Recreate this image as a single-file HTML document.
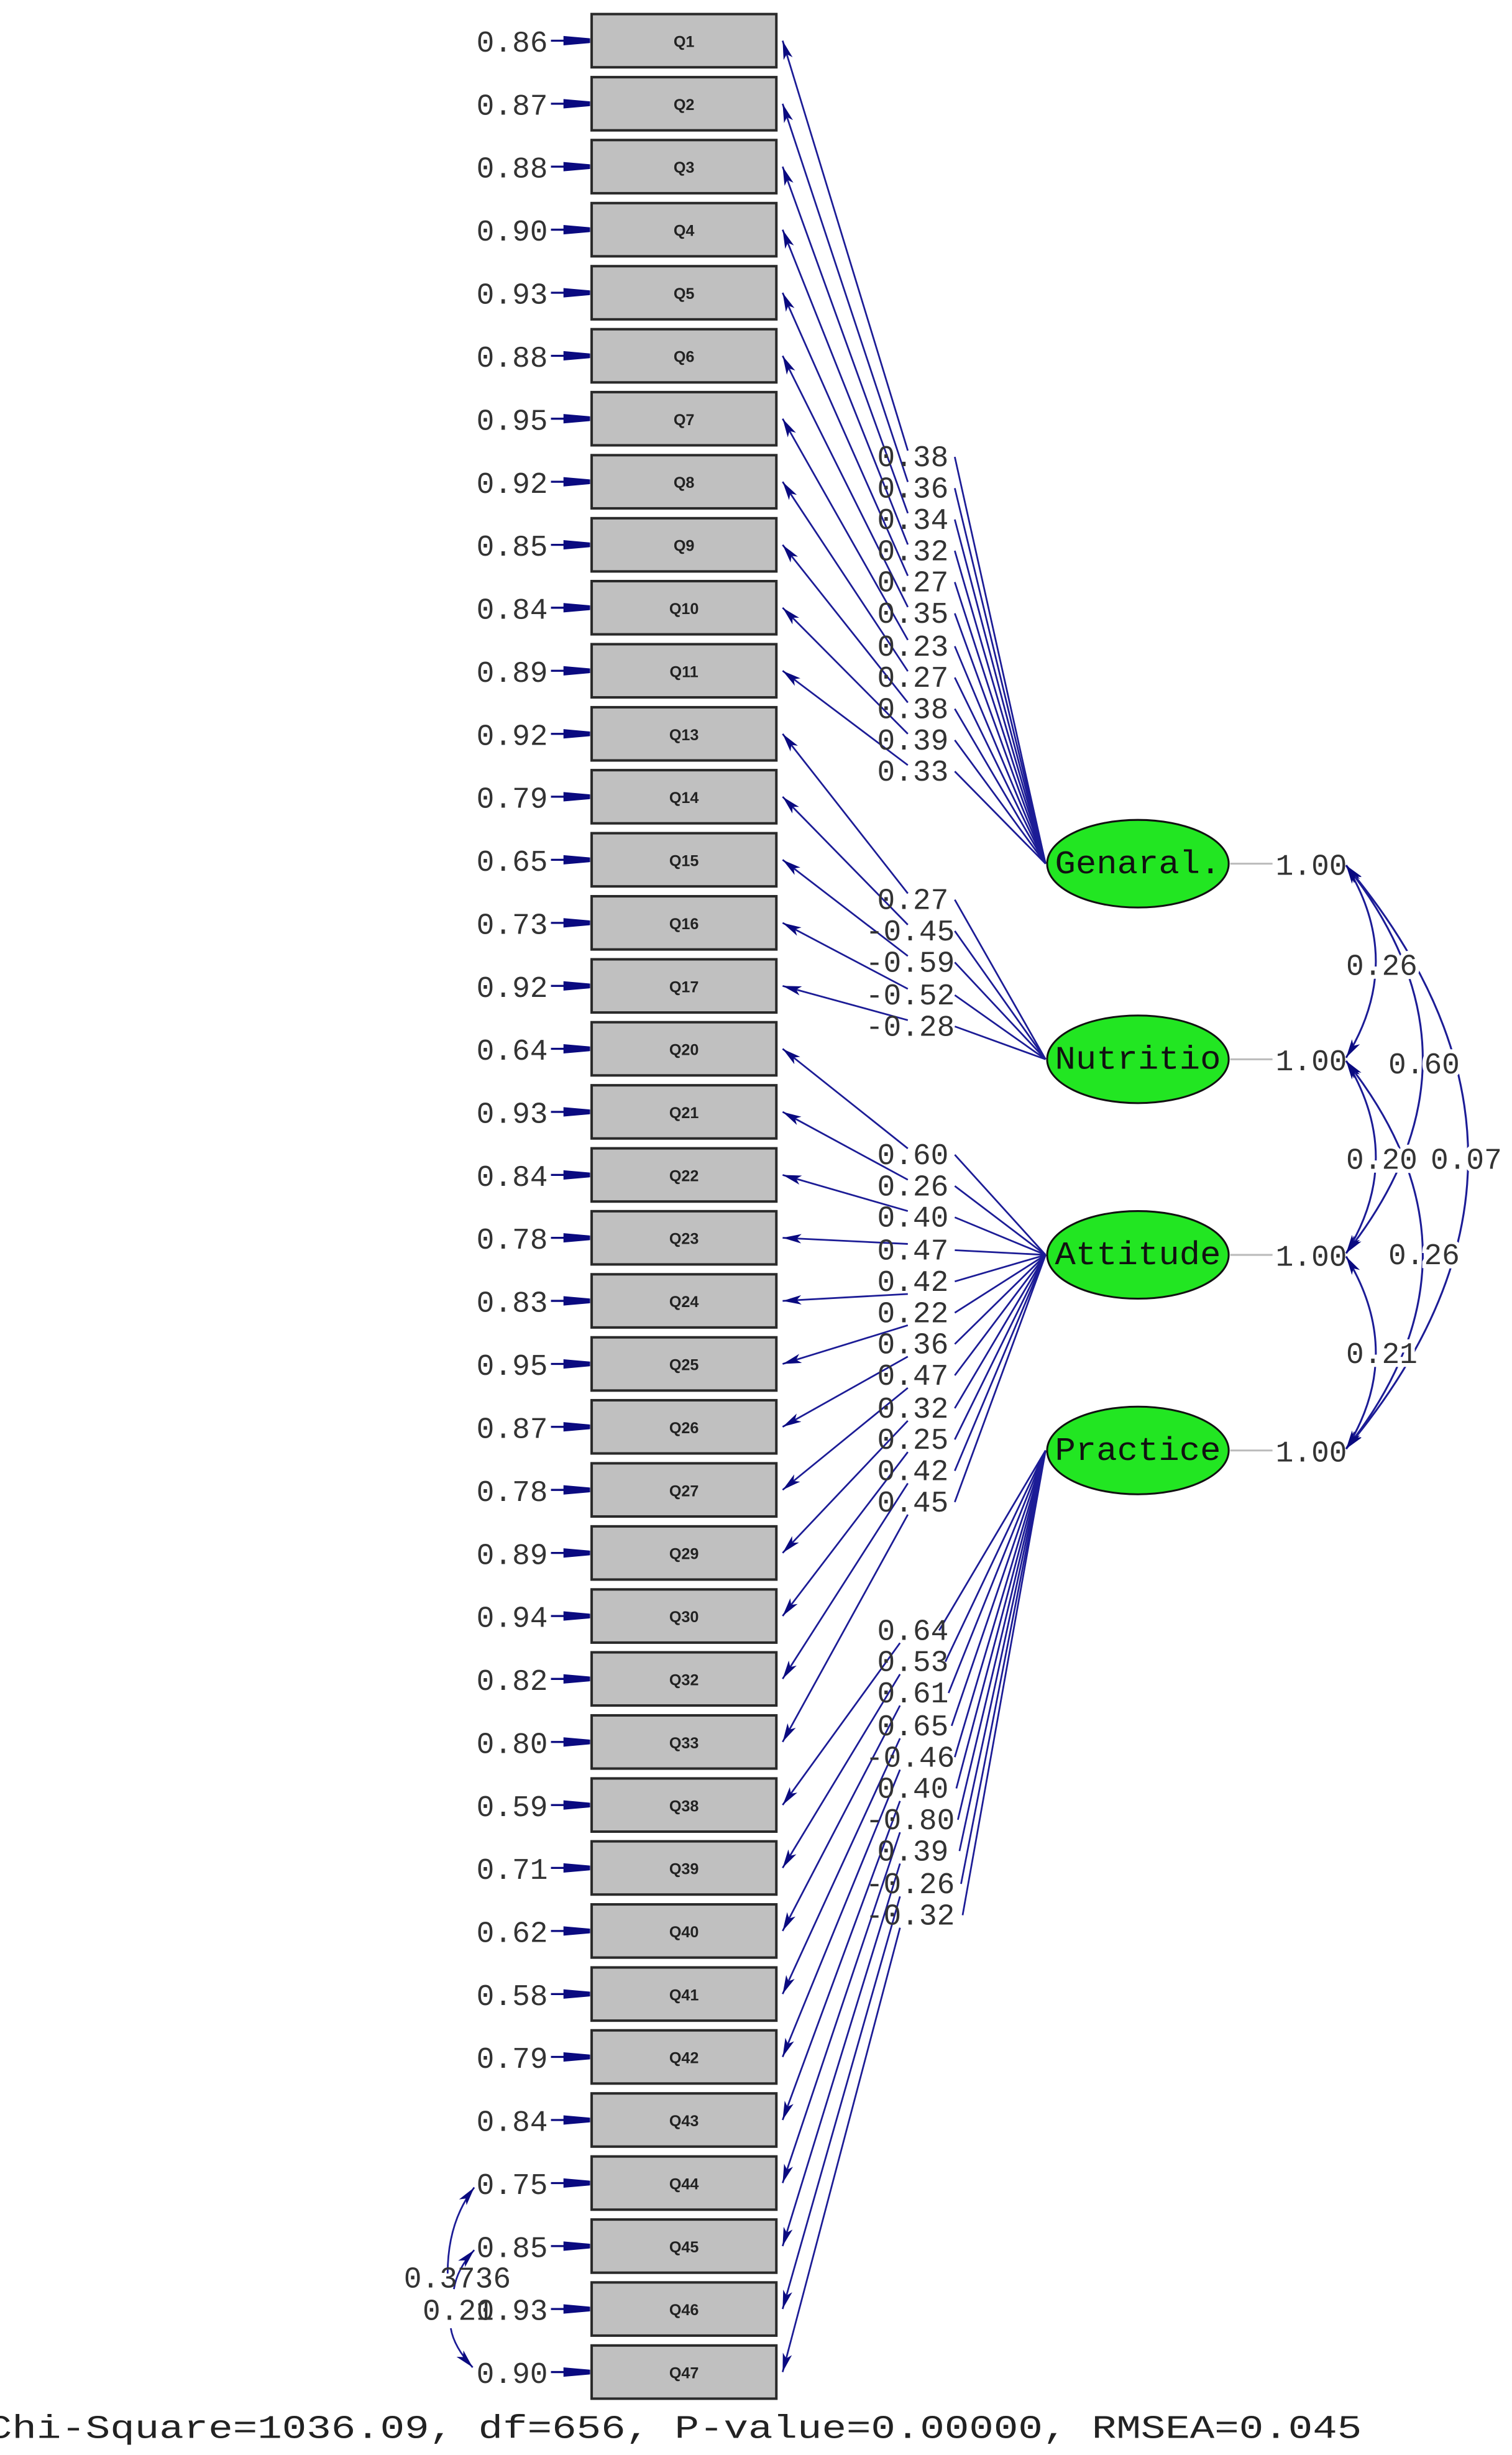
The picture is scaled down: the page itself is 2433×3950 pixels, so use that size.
<!DOCTYPE html>
<html><head><meta charset="utf-8"><style>
html,body{margin:0;padding:0;background:#fff;}
svg{display:block;}
.b{fill:#c0c0c0;stroke:#2a2a2a;stroke-width:1.6;}
.q{font-family:"Liberation Sans",sans-serif;font-size:10px;font-weight:bold;fill:#222;text-anchor:middle;}
.t{font-family:"Liberation Mono",monospace;font-size:19px;fill:#333;}
.e{text-anchor:end;}
.l{fill:none;stroke:#1c1c96;stroke-width:1.1;}
.er{fill:none;stroke:#0a0a80;stroke-width:1.3;}
.ld{fill:none;stroke:#1c1c96;stroke-width:1.1;marker-end:url(#ah);}
.ar{fill:none;stroke:#1c1c96;stroke-width:1.2;marker-start:url(#ah2);marker-end:url(#ah2);}
.ov{font-family:"Liberation Mono",monospace;font-size:19px;fill:#333;stroke:#fff;stroke-width:5px;paint-order:stroke;}
.el{fill:#22e622;stroke:#111;stroke-width:1.2;}
.et{font-family:"Liberation Mono",monospace;font-size:21px;fill:#111;text-anchor:middle;}
</style></head><body>
<svg width="2433" height="3950" viewBox="0 0 966 1569" preserveAspectRatio="none" xmlns="http://www.w3.org/2000/svg">
<defs>
<marker id="ah" markerUnits="userSpaceOnUse" markerWidth="14" markerHeight="8" refX="12" refY="3" orient="auto"><path d="M0,0 L12,3 L0,6 L3,3 z" fill="#0a0a80"/></marker>
<marker id="ah2" markerUnits="userSpaceOnUse" markerWidth="14" markerHeight="8" refX="12" refY="3" orient="auto-start-reverse"><path d="M0,0 L12,3 L0,6 L3,3 z" fill="#0a0a80"/></marker>
</defs>

<!-- boxes -->
<rect class="b" x="378" y="9" width="118" height="34"/><text class="q" x="437" y="30">Q1</text>
<rect class="b" x="378" y="49.3" width="118" height="34"/><text class="q" x="437" y="70.3">Q2</text>
<rect class="b" x="378" y="89.5" width="118" height="34"/><text class="q" x="437" y="110.5">Q3</text>
<rect class="b" x="378" y="129.8" width="118" height="34"/><text class="q" x="437" y="150.8">Q4</text>
<rect class="b" x="378" y="170.1" width="118" height="34"/><text class="q" x="437" y="191.1">Q5</text>
<rect class="b" x="378" y="210.4" width="118" height="34"/><text class="q" x="437" y="231.4">Q6</text>
<rect class="b" x="378" y="250.6" width="118" height="34"/><text class="q" x="437" y="271.6">Q7</text>
<rect class="b" x="378" y="290.9" width="118" height="34"/><text class="q" x="437" y="311.9">Q8</text>
<rect class="b" x="378" y="331.2" width="118" height="34"/><text class="q" x="437" y="352.2">Q9</text>
<rect class="b" x="378" y="371.4" width="118" height="34"/><text class="q" x="437" y="392.4">Q10</text>
<rect class="b" x="378" y="411.7" width="118" height="34"/><text class="q" x="437" y="432.7">Q11</text>
<rect class="b" x="378" y="452" width="118" height="34"/><text class="q" x="437" y="473">Q13</text>
<rect class="b" x="378" y="492.2" width="118" height="34"/><text class="q" x="437" y="513.2">Q14</text>
<rect class="b" x="378" y="532.5" width="118" height="34"/><text class="q" x="437" y="553.5">Q15</text>
<rect class="b" x="378" y="572.8" width="118" height="34"/><text class="q" x="437" y="593.8">Q16</text>
<rect class="b" x="378" y="613.1" width="118" height="34"/><text class="q" x="437" y="634.1">Q17</text>
<rect class="b" x="378" y="653.3" width="118" height="34"/><text class="q" x="437" y="674.3">Q20</text>
<rect class="b" x="378" y="693.6" width="118" height="34"/><text class="q" x="437" y="714.6">Q21</text>
<rect class="b" x="378" y="733.9" width="118" height="34"/><text class="q" x="437" y="754.9">Q22</text>
<rect class="b" x="378" y="774.1" width="118" height="34"/><text class="q" x="437" y="795.1">Q23</text>
<rect class="b" x="378" y="814.4" width="118" height="34"/><text class="q" x="437" y="835.4">Q24</text>
<rect class="b" x="378" y="854.7" width="118" height="34"/><text class="q" x="437" y="875.7">Q25</text>
<rect class="b" x="378" y="894.9" width="118" height="34"/><text class="q" x="437" y="915.9">Q26</text>
<rect class="b" x="378" y="935.2" width="118" height="34"/><text class="q" x="437" y="956.2">Q27</text>
<rect class="b" x="378" y="975.5" width="118" height="34"/><text class="q" x="437" y="996.5">Q29</text>
<rect class="b" x="378" y="1015.8" width="118" height="34"/><text class="q" x="437" y="1036.8">Q30</text>
<rect class="b" x="378" y="1056" width="118" height="34"/><text class="q" x="437" y="1077">Q32</text>
<rect class="b" x="378" y="1096.3" width="118" height="34"/><text class="q" x="437" y="1117.3">Q33</text>
<rect class="b" x="378" y="1136.6" width="118" height="34"/><text class="q" x="437" y="1157.6">Q38</text>
<rect class="b" x="378" y="1176.8" width="118" height="34"/><text class="q" x="437" y="1197.8">Q39</text>
<rect class="b" x="378" y="1217.1" width="118" height="34"/><text class="q" x="437" y="1238.1">Q40</text>
<rect class="b" x="378" y="1257.4" width="118" height="34"/><text class="q" x="437" y="1278.4">Q41</text>
<rect class="b" x="378" y="1297.6" width="118" height="34"/><text class="q" x="437" y="1318.6">Q42</text>
<rect class="b" x="378" y="1337.9" width="118" height="34"/><text class="q" x="437" y="1358.9">Q43</text>
<rect class="b" x="378" y="1378.2" width="118" height="34"/><text class="q" x="437" y="1399.2">Q44</text>
<rect class="b" x="378" y="1418.5" width="118" height="34"/><text class="q" x="437" y="1439.5">Q45</text>
<rect class="b" x="378" y="1458.7" width="118" height="34"/><text class="q" x="437" y="1479.7">Q46</text>
<rect class="b" x="378" y="1499" width="118" height="34"/><text class="q" x="437" y="1520">Q47</text>

<!-- error arrows -->
<path class="er" d="M352 26H377M352 66.3H377M352 106.5H377M352 146.8H377M352 187.1H377M352 227.4H377M352 267.6H377M352 307.9H377M352 348.2H377M352 388.4H377M352 428.7H377M352 469H377M352 509.2H377M352 549.5H377M352 589.8H377M352 630.1H377M352 670.3H377M352 710.6H377M352 750.9H377M352 791.1H377M352 831.4H377M352 871.7H377M352 911.9H377M352 952.2H377M352 992.5H377M352 1032.8H377M352 1073H377M352 1113.3H377M352 1153.6H377M352 1193.8H377M352 1234.1H377M352 1274.4H377M352 1314.6H377M352 1354.9H377M352 1395.2H377M352 1435.5H377M352 1475.7H377M352 1516H377"/>
<g fill="#0a0a80">
<path d="M360 23l17 1.5v3l-17 1.5z"/><path d="M360 63.3l17 1.5v3l-17 1.5z"/><path d="M360 103.5l17 1.5v3l-17 1.5z"/><path d="M360 143.8l17 1.5v3l-17 1.5z"/><path d="M360 184.1l17 1.5v3l-17 1.5z"/><path d="M360 224.4l17 1.5v3l-17 1.5z"/><path d="M360 264.6l17 1.5v3l-17 1.5z"/><path d="M360 304.9l17 1.5v3l-17 1.5z"/><path d="M360 345.2l17 1.5v3l-17 1.5z"/><path d="M360 385.4l17 1.5v3l-17 1.5z"/><path d="M360 425.7l17 1.5v3l-17 1.5z"/><path d="M360 466l17 1.5v3l-17 1.5z"/><path d="M360 506.2l17 1.5v3l-17 1.5z"/><path d="M360 546.5l17 1.5v3l-17 1.5z"/><path d="M360 586.8l17 1.5v3l-17 1.5z"/><path d="M360 627.1l17 1.5v3l-17 1.5z"/><path d="M360 667.3l17 1.5v3l-17 1.5z"/><path d="M360 707.6l17 1.5v3l-17 1.5z"/><path d="M360 747.9l17 1.5v3l-17 1.5z"/><path d="M360 788.1l17 1.5v3l-17 1.5z"/><path d="M360 828.4l17 1.5v3l-17 1.5z"/><path d="M360 868.7l17 1.5v3l-17 1.5z"/><path d="M360 908.9l17 1.5v3l-17 1.5z"/><path d="M360 949.2l17 1.5v3l-17 1.5z"/><path d="M360 989.5l17 1.5v3l-17 1.5z"/><path d="M360 1029.8l17 1.5v3l-17 1.5z"/><path d="M360 1070l17 1.5v3l-17 1.5z"/><path d="M360 1110.3l17 1.5v3l-17 1.5z"/><path d="M360 1150.6l17 1.5v3l-17 1.5z"/><path d="M360 1190.8l17 1.5v3l-17 1.5z"/><path d="M360 1231.1l17 1.5v3l-17 1.5z"/><path d="M360 1271.4l17 1.5v3l-17 1.5z"/><path d="M360 1311.6l17 1.5v3l-17 1.5z"/><path d="M360 1351.9l17 1.5v3l-17 1.5z"/><path d="M360 1392.2l17 1.5v3l-17 1.5z"/><path d="M360 1432.5l17 1.5v3l-17 1.5z"/><path d="M360 1472.7l17 1.5v3l-17 1.5z"/><path d="M360 1513l17 1.5v3l-17 1.5z"/>
</g>

<!-- error labels -->
<g>
<text class="t e" x="350" y="33">0.86</text><text class="t e" x="350" y="73.3">0.87</text><text class="t e" x="350" y="113.5">0.88</text><text class="t e" x="350" y="153.8">0.90</text><text class="t e" x="350" y="194.1">0.93</text><text class="t e" x="350" y="234.4">0.88</text><text class="t e" x="350" y="274.6">0.95</text><text class="t e" x="350" y="314.9">0.92</text><text class="t e" x="350" y="355.2">0.85</text><text class="t e" x="350" y="395.4">0.84</text><text class="t e" x="350" y="435.7">0.89</text><text class="t e" x="350" y="476">0.92</text><text class="t e" x="350" y="516.2">0.79</text><text class="t e" x="350" y="556.5">0.65</text><text class="t e" x="350" y="596.8">0.73</text><text class="t e" x="350" y="637.1">0.92</text><text class="t e" x="350" y="677.3">0.64</text><text class="t e" x="350" y="717.6">0.93</text><text class="t e" x="350" y="757.9">0.84</text><text class="t e" x="350" y="798.1">0.78</text><text class="t e" x="350" y="838.4">0.83</text><text class="t e" x="350" y="878.7">0.95</text><text class="t e" x="350" y="918.9">0.87</text><text class="t e" x="350" y="959.2">0.78</text><text class="t e" x="350" y="999.5">0.89</text><text class="t e" x="350" y="1039.8">0.94</text><text class="t e" x="350" y="1080">0.82</text><text class="t e" x="350" y="1120.3">0.80</text><text class="t e" x="350" y="1160.6">0.59</text><text class="t e" x="350" y="1200.8">0.71</text><text class="t e" x="350" y="1241.1">0.62</text><text class="t e" x="350" y="1281.4">0.58</text><text class="t e" x="350" y="1321.6">0.79</text><text class="t e" x="350" y="1361.9">0.84</text><text class="t e" x="350" y="1402.2">0.75</text><text class="t e" x="350" y="1442.5">0.85</text><text class="t e" x="350" y="1482.7">0.93</text><text class="t e" x="350" y="1523">0.90</text>
</g>

<!-- loadings: General -->
<path class="ld" d="M668 552L610 292M580 288L500 26"/>
<path class="ld" d="M668 552L610 312M580 308L500 66.3"/>
<path class="ld" d="M668 552L610 332M580 328L500 106.5"/>
<path class="ld" d="M668 552L610 352M580 348L500 146.8"/>
<path class="ld" d="M668 552L610 372M580 368L500 187.1"/>
<path class="ld" d="M668 552L610 392M580 388L500 227.4"/>
<path class="ld" d="M668 552L610 413M580 409L500 267.6"/>
<path class="ld" d="M668 552L610 433M580 429L500 307.9"/>
<path class="ld" d="M668 552L610 453M580 449L500 348.2"/>
<path class="ld" d="M668 552L610 473M580 469L500 388.4"/>
<path class="ld" d="M668 552L610 493M580 489L500 428.7"/>
<!-- Nutrition -->
<path class="ld" d="M668 677L610 575M580 571L500 469"/>
<path class="ld" d="M668 677L610 595M580 591L500 509.2"/>
<path class="ld" d="M668 677L610 615M580 611L500 549.5"/>
<path class="ld" d="M668 677L610 636M580 632L500 589.8"/>
<path class="ld" d="M668 677L610 656M580 652L500 630.1"/>
<!-- Attitude -->
<path class="ld" d="M668 802L610 738M580 734L500 670.3"/>
<path class="ld" d="M668 802L610 758M580 754L500 710.6"/>
<path class="ld" d="M668 802L610 778M580 774L500 750.9"/>
<path class="ld" d="M668 802L610 799M580 795L500 791.1"/>
<path class="ld" d="M668 802L610 819M580 827L500 831.4"/>
<path class="ld" d="M668 802L610 839M580 847L500 871.7"/>
<path class="ld" d="M668 802L610 859M580 867L500 911.9"/>
<path class="ld" d="M668 802L610 879M580 887L500 952.2"/>
<path class="ld" d="M668 802L610 900M580 908L500 992.5"/>
<path class="ld" d="M668 802L610 920M580 928L500 1032.8"/>
<path class="ld" d="M668 802L610 940M580 948L500 1073"/>
<path class="ld" d="M668 802L610 960M580 968L500 1113.3"/>
<!-- Practice -->
<path class="ld" d="M668 927L600 1042M575 1050L500 1153.6"/>
<path class="ld" d="M668 927L604 1062M575 1070L500 1193.8"/>
<path class="ld" d="M668 927L606 1082M575 1090L500 1234.1"/>
<path class="ld" d="M668 927L608 1103M575 1111L500 1274.4"/>
<path class="ld" d="M668 927L610 1123M575 1131L500 1314.6"/>
<path class="ld" d="M668 927L611 1143M575 1151L500 1354.9"/>
<path class="ld" d="M668 927L612 1163M575 1171L500 1395.2"/>
<path class="ld" d="M668 927L613 1183M575 1191L500 1435.5"/>
<path class="ld" d="M668 927L614 1204M575 1212L500 1475.7"/>
<path class="ld" d="M668 927L615 1224M575 1232L500 1516"/>

<!-- loading labels -->
<g>
<text class="t e" x="606" y="298">0.38</text><text class="t e" x="606" y="318">0.36</text><text class="t e" x="606" y="338">0.34</text><text class="t e" x="606" y="358">0.32</text><text class="t e" x="606" y="378">0.27</text><text class="t e" x="606" y="398">0.35</text><text class="t e" x="606" y="419">0.23</text><text class="t e" x="606" y="439">0.27</text><text class="t e" x="606" y="459">0.38</text><text class="t e" x="606" y="479">0.39</text><text class="t e" x="606" y="499">0.33</text>
<text class="t e" x="606" y="581">0.27</text><text class="t e" x="610" y="601">-0.45</text><text class="t e" x="610" y="621">-0.59</text><text class="t e" x="610" y="642">-0.52</text><text class="t e" x="610" y="662">-0.28</text>
<text class="t e" x="606" y="744">0.60</text><text class="t e" x="606" y="764">0.26</text><text class="t e" x="606" y="784">0.40</text><text class="t e" x="606" y="805">0.47</text><text class="t e" x="606" y="825">0.42</text><text class="t e" x="606" y="845">0.22</text><text class="t e" x="606" y="865">0.36</text><text class="t e" x="606" y="885">0.47</text><text class="t e" x="606" y="906">0.32</text><text class="t e" x="606" y="926">0.25</text><text class="t e" x="606" y="946">0.42</text><text class="t e" x="606" y="966">0.45</text>
<text class="t e" x="606" y="1048">0.64</text><text class="t e" x="606" y="1068">0.53</text><text class="t e" x="606" y="1088">0.61</text><text class="t e" x="606" y="1109">0.65</text><text class="t e" x="610" y="1129">-0.46</text><text class="t e" x="606" y="1149">0.40</text><text class="t e" x="610" y="1169">-0.80</text><text class="t e" x="606" y="1189">0.39</text><text class="t e" x="610" y="1210">-0.26</text><text class="t e" x="610" y="1230">-0.32</text>
</g>

<!-- latent variables -->
<ellipse class="el" cx="727" cy="552" rx="58" ry="28"/><text class="et" x="727" y="558" textLength="106" lengthAdjust="spacingAndGlyphs">Genaral.</text>
<ellipse class="el" cx="727" cy="677" rx="58" ry="28"/><text class="et" x="727" y="683" textLength="106" lengthAdjust="spacingAndGlyphs">Nutritio</text>
<ellipse class="el" cx="727" cy="802" rx="58" ry="28"/><text class="et" x="727" y="808" textLength="106" lengthAdjust="spacingAndGlyphs">Attitude</text>
<ellipse class="el" cx="727" cy="927" rx="58" ry="28"/><text class="et" x="727" y="933" textLength="106" lengthAdjust="spacingAndGlyphs">Practice</text>

<path d="M786 552H813M786 677H813M786 802H813M786 927H813" stroke="#bbb" stroke-width="1.2"/>
<text class="t" x="815" y="559">1.00</text>
<text class="t" x="815" y="684">1.00</text>
<text class="t" x="815" y="809">1.00</text>
<text class="t" x="815" y="934">1.00</text>

<!-- correlation arcs -->
<path class="ar" d="M860 553Q898 614.5 860 676"/>
<path class="ar" d="M860 553Q958 677 860 801"/>
<path class="ar" d="M860 553Q1016 740 860 926"/>
<path class="ar" d="M860 678Q898 740 860 801"/>
<path class="ar" d="M860 678Q958 802 860 926"/>
<path class="ar" d="M860 803Q898 865 860 926"/>
<text class="ov" x="860" y="623">0.26</text>
<text class="ov" x="887" y="686">0.60</text>
<text class="ov" x="860" y="747">0.20</text>
<text class="ov" x="914" y="747">0.07</text>
<text class="ov" x="887" y="808">0.26</text>
<text class="ov" x="860" y="871">0.21</text>

<!-- error covariances -->
<path class="l" d="M286 1453Q286 1420 303 1398" style="marker-end:url(#ah)"/>
<path class="l" d="M290 1463Q292 1450 303 1438" style="marker-end:url(#ah)"/>
<path class="l" d="M288 1488Q290 1500 302 1513" style="marker-end:url(#ah)"/>
<text class="t" x="258" y="1462">0.3736</text>
<text class="t" x="270" y="1482.7">0.21</text>

<text class="t" x="-8" y="1558" textLength="878" lengthAdjust="spacingAndGlyphs" style="font-size:21px;fill:#222">Chi-Square=1036.09, df=656, P-value=0.00000, RMSEA=0.045</text>
</svg>
</body></html>
